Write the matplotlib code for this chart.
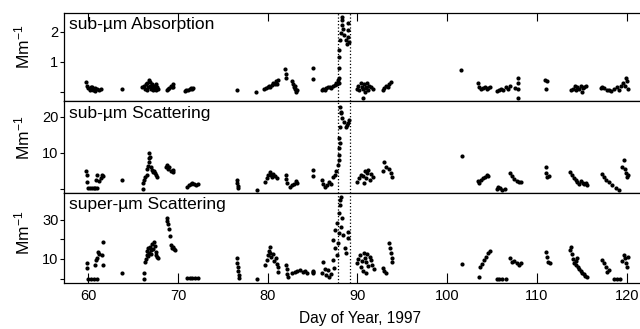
import matplotlib
matplotlib.use("Agg")
import matplotlib.pyplot as plt

plt.rcParams['font.family'] = ['Liberation Sans', 'DejaVu Sans']
plt.rcParams['mathtext.default'] = 'regular'

# sub-um absorption (day, Mm-1)
abs_day = [59.8, 59.9, 60.0, 60.2, 60.4, 60.5, 60.7, 60.8, 61.0, 61.2, 61.4, 60.3,
           63.8,
           66.0, 66.2, 66.3, 66.4, 66.5, 66.6, 66.7, 66.8, 66.9, 67.0, 67.1, 67.2, 67.3,
           67.4, 67.5, 67.6, 67.7, 67.8, 66.9, 67.2,
           68.8, 68.9, 69.0, 69.2, 69.3, 69.4, 69.5,
           70.8, 70.9, 71.1, 71.3, 71.5, 71.6, 71.7,
           76.6, 78.7,
           79.6, 79.8, 80.0, 80.1, 80.3, 80.5, 80.6, 80.8, 80.9, 81.0, 81.1,
           82.0, 82.0, 81.9,
           82.7, 82.8, 82.9, 83.0, 83.1, 83.2, 83.3, 83.0,
           85.0, 85.0,
           86.1, 86.2, 86.4, 86.5, 86.7, 86.9, 87.0, 87.3, 87.5, 87.6, 87.8, 87.7,
           87.9, 87.9, 88.0, 88.0, 88.0, 88.05, 88.2, 88.3, 88.3, 88.25, 88.5, 88.7,
           88.9, 89.0, 89.1, 88.8, 88.4, 89.0,
           90.0, 90.1, 90.2, 90.4, 90.5, 90.6, 90.7, 90.8, 90.9, 91.0, 91.1, 91.2,
           91.3, 90.6, 91.5, 91.7,
           92.8, 93.0, 93.2, 93.4, 93.5, 93.7,
           101.5,
           103.4, 103.6, 103.8, 104.0, 104.2, 104.4, 104.6, 104.8,
           105.6, 105.8, 106.0, 106.2, 106.6, 106.8, 107.0,
           107.9, 107.9, 107.9, 107.9, 107.6,
           110.9, 111.1, 111.0,
           113.8, 114.0, 114.2, 114.3, 114.5, 114.7, 114.9, 115.1, 115.3, 115.5, 115.0,
           117.1, 117.3, 117.5, 117.8, 118.0, 118.2, 118.6, 118.9, 119.1, 119.4, 119.6,
           119.8, 119.9, 120.0, 120.1]
abs_val = [0.33, 0.2, 0.12, 0.08, 0.15, 0.05, 0.12, 0.02, 0.1, 0.08, 0.1, 0.18,
           0.1,
           0.15, 0.2, 0.1, 0.25, 0.05, 0.3, 0.15, 0.4, 0.2, 0.1, 0.28, 0.05, 0.2,
           0.12, 0.25, 0.08, 0.15, 0.1, 0.32, 0.17,
           0.05, 0.1, 0.12, 0.2, 0.15, 0.25, 0.18,
           0.02, 0.05, 0.08, 0.1, 0.12, 0.1, 0.13,
           0.07, 0.0,
           0.1, 0.12, 0.15, 0.2, 0.17, 0.22, 0.3, 0.25, 0.35, 0.28, 0.4,
           0.45, 0.6, 0.78,
           0.35, 0.25, 0.15, 0.1, 0.05, 0.0, 0.08, 0.2,
           0.8, 0.43,
           0.05, 0.1, 0.08, 0.12, 0.15, 0.18, 0.12, 0.2, 0.22, 0.3, 0.4, 0.25,
           0.3, 0.46, 0.8, 1.17, 1.4, 1.73, 1.96, 2.23, 2.5, 2.4, 1.9, 1.73,
           1.83, 2.07, 1.67, 1.6, 2.1, 2.3,
           0.1, 0.2, 0.05, 0.3, 0.15, 0.1, 0.25, 0.0, 0.18, 0.12, 0.3, 0.08,
           0.2, -0.2, 0.15, 0.1,
           0.07, 0.12, 0.2, 0.15, 0.25, 0.33,
           0.73,
           0.3, 0.15, 0.1, 0.12, 0.15, 0.1, 0.12, 0.15,
           0.03, 0.08, 0.1, 0.05, 0.15, 0.1, 0.2,
           0.47, 0.3, 0.1, -0.2, 0.12,
           0.4, 0.35, 0.1,
           0.05, 0.1, 0.2, 0.08, 0.15, 0.1, 0.2, 0.12, 0.15, 0.2, 0.0,
           0.12, 0.15, 0.12, 0.08, 0.05, 0.03, 0.1, 0.15, 0.05, 0.2, 0.3,
           0.2, 0.47, 0.35, 0.1]

# sub-um scattering
sub_day = [59.8, 59.9, 59.9, 60.0, 60.2, 60.4, 60.6, 60.8, 61.0, 60.9, 61.0, 61.2, 61.4,
           61.5, 61.7,
           63.8,
           66.1, 66.1, 66.2, 66.3, 66.5, 66.6, 66.7, 66.8, 66.8, 66.8, 66.9, 67.0, 67.1,
           67.2, 67.4, 67.5, 67.7, 67.3,
           68.7, 68.8, 68.9, 69.0, 69.2, 69.4, 69.5,
           71.0, 71.2, 71.4, 71.6, 71.8, 72.0, 72.2,
           76.6, 76.6, 76.7, 76.7, 78.8,
           79.7, 79.9, 80.0, 80.2, 80.4, 80.6, 80.8, 81.0, 80.5,
           82.0, 82.0, 82.1,
           82.5, 82.7, 82.9, 83.1, 83.3,
           85.0, 85.0,
           86.0, 86.2, 86.4, 86.6, 86.8, 87.0,
           87.3, 87.5, 87.6, 87.8,
           88.1, 88.15, 88.3, 88.5, 88.7, 88.1, 88.9, 89.1, 88.0, 88.1, 88.0, 88.0,
           87.9, 88.2, 88.8,
           90.0, 90.2, 90.4, 90.6, 90.7, 90.8, 91.0, 91.1, 91.2, 91.4, 91.5, 91.7,
           92.9, 93.0, 93.2, 93.5, 93.7, 93.9,
           101.6,
           103.4, 103.6, 103.8, 104.0, 104.2, 104.4, 104.6,
           105.5, 105.7, 105.9, 106.1, 106.4,
           107.0, 107.2, 107.5, 107.8, 108.0, 108.2,
           111.0, 111.0, 111.1, 111.3,
           113.7, 113.9, 114.1, 114.3, 114.5, 114.7, 114.9, 115.1, 115.3, 115.5, 115.6,
           117.3, 117.5, 117.7, 118.0, 118.4, 118.8, 119.1,
           119.5, 119.7, 119.8, 119.9, 120.0, 120.2]
sub_val = [5.0, 2.0, 3.9, 0.3, 0.3, 0.3, 0.2, 0.3, 0.3, 2.5, 3.9, 2.2, 3.0,
           4.0, 3.5,
           2.5,
           0.0, 1.7, 2.5, 3.2, 4.0, 5.5, 6.5, 7.5, 8.5, 10.0, 9.0, 6.0, 5.3,
           4.7, 4.5, 3.8, 3.3, 5.0,
           6.0, 6.7, 5.5, 6.2, 5.0, 4.7, 5.2,
           0.5, 1.0, 1.5, 1.7, 1.3, 1.2, 1.5,
           2.5, 1.7, 0.8, 0.3, -0.3,
           2.0, 3.0, 3.8, 4.7, 4.0, 4.2, 3.5, 3.0, 3.3,
           3.9, 2.8, 1.7,
           0.6, 1.0, 1.5, 2.2, 1.8,
           5.3, 3.6,
           2.5, 1.5, 0.6, 1.0, 2.0, 1.5,
           3.3, 4.0, 5.0, 6.7,
           22.8, 21.4, 19.7, 18.6, 17.2, 17.2, 18.3, 19.2, 14.2, 12.8, 11.4, 9.4,
           8.0, 21.0, 17.8,
           2.0, 3.0, 4.0, 3.5, 1.7, 5.0, 3.0, 4.5, 5.3, 2.5, 4.2, 3.3,
           5.0, 7.5, 6.0, 5.5, 4.5, 3.3,
           9.2,
           2.2, 1.7, 2.5, 3.0, 3.4, 3.9, 3.5,
           0.0, 0.5, 0.3, -0.2, 0.0,
           4.4, 3.5, 2.8, 2.2, 1.9, 2.0,
           6.0, 4.5, 3.3, 3.6,
           4.7, 3.9, 3.0, 2.4, 2.0, 1.5, 2.2, 1.8, 1.3, 1.6, 1.1,
           4.2, 3.2, 2.5, 2.0, 1.0, 0.3, -0.3,
           6.0, 8.0, 5.5, 4.5, 3.3, 3.8]

# super-um scattering
sup_day = [59.9, 59.9, 60.0, 60.3, 60.6, 61.0,
           60.8, 60.9, 61.0, 61.1, 61.2, 61.5, 61.6, 61.7,
           63.8, 66.2, 66.2,
           66.3, 66.4, 66.5, 66.6, 66.7, 66.8, 66.9, 67.0, 67.1, 67.2, 67.3, 67.4, 67.5,
           67.6, 67.7, 67.8, 66.7, 67.0,
           68.8, 68.8, 68.9, 69.0, 69.1, 69.2, 69.3, 69.5, 69.6, 69.7,
           71.0, 71.3, 71.6, 71.9, 72.2,
           76.6, 76.6, 76.7, 76.7, 76.8, 76.8, 78.8,
           79.7, 79.9, 80.0, 80.1, 80.2, 80.3, 80.4, 80.6, 80.7, 80.9, 81.0, 81.2, 81.1,
           82.0, 82.1, 82.2, 82.3,
           82.7, 83.0, 83.3, 83.6, 83.9, 84.2, 84.4,
           85.0, 85.0, 85.1,
           86.1, 86.2, 86.4, 86.5, 86.7, 86.8, 87.0,
           87.3, 87.3, 87.5, 87.5, 87.7, 87.8, 87.9, 88.1, 88.2, 88.1, 88.3, 88.0,
           88.2, 88.4, 88.9, 89.0, 88.6, 88.7, 87.7, 87.4,
           90.0, 90.1, 90.3, 90.4, 90.5, 90.6, 90.7, 90.8, 90.9, 91.0, 91.1, 91.2,
           91.4, 91.5, 91.6, 91.8,
           92.8, 93.0, 93.2,
           93.5, 93.6, 93.7, 93.8, 93.9,
           101.7,
           103.5, 103.7, 103.9, 104.1, 104.3, 104.5, 104.8,
           105.5, 105.8, 106.1, 106.5,
           107.0, 107.2, 107.5, 107.8, 108.0, 108.2,
           111.0, 111.1, 111.2, 111.5,
           113.7, 113.8, 113.9, 114.0, 114.1, 114.3, 114.4, 114.6, 114.7, 114.9, 115.0,
           115.2, 115.4, 115.6, 114.5,
           117.3, 117.5, 117.7, 118.0, 117.8,
           118.6, 118.9, 119.3,
           119.5, 119.7, 119.8, 119.9, 120.0, 120.2]
sup_val = [8.0, 5.4, 0.0, 0.0, 0.0, 0.0,
           6.9, 9.5, 10.7, 13.6, 12.5, 12.0, 18.7, 6.9,
           2.8, 2.8, 0.0,
           8.5, 10.0, 12.0, 14.0, 15.5, 13.0, 16.0, 14.5, 17.5, 15.0, 18.7, 16.5, 13.5,
           12.0, 11.0, 10.5, 11.5, 12.5,
           31.0, 29.5, 28.0, 25.5, 22.0, 17.0, 15.6, 16.0, 15.0, 14.6,
           0.3, 0.5, 0.3, 0.5, 0.3,
           10.5, 8.0, 6.0, 4.0, 2.0, 0.3, 0.0,
           7.0, 9.5, 12.0, 14.0, 16.0, 13.0, 11.0, 12.5, 9.0, 10.5, 7.5, 6.0, 3.3,
           7.0, 5.0, 2.5, 0.8,
           3.0, 3.5, 4.0, 4.3, 3.5, 4.0, 3.0,
           3.8, 3.3, 2.8,
           3.0, 8.5, 5.0, 2.0, 4.5, 0.8, 2.5,
           9.5, 19.7, 24.9, 15.6, 28.5, 18.2, 33.6, 37.7, 41.8, 40.3, 31.0, 23.3,
           26.4, 22.3, 20.8, 23.8, 15.6, 13.0, 12.0, 5.4,
           8.0, 10.0, 12.0, 6.0, 9.0, 4.0, 13.0, 10.5, 3.0, 8.5, 12.5, 6.5,
           11.0, 9.5, 7.0, 5.0,
           5.4, 4.0, 2.8,
           18.0, 15.5, 13.0, 10.5, 8.5,
           7.4,
           0.8, 5.9, 7.5, 9.5, 11.0, 13.0, 14.0,
           0.0, 0.0, 0.0, 0.0,
           10.5, 8.5, 9.0, 8.0, 7.0, 8.0,
           13.6, 11.0, 8.5, 8.0,
           14.5, 16.0, 12.5, 10.0, 8.0, 9.0, 7.0, 6.0, 5.0, 4.0, 3.0,
           2.5, 1.5, 0.8, 10.5,
           9.5, 8.0, 6.0, 4.5, 3.3,
           0.0, 0.0, 0.0,
           9.0, 12.0, 10.5, 8.0, 6.0, 11.0]

event_days = [87.85, 89.13]
panel_titles = ['sub-\u00b5m Absorption', 'sub-\u00b5m Scattering', 'super-\u00b5m Scattering']
ylims = [(-0.3, 2.63), (-1.1, 24.4), (-2.3, 43.8)]
yticks = [[0, 1, 2], [0, 10, 20], [0, 10, 20, 30]]
yticklabels = [['', '1', '2'], ['', '10', '20'], ['', '10', '', '30']]
xticks = [60, 70, 80, 90, 100, 110, 120]

fig = plt.figure(figsize=(6.4, 3.29), dpi=100)
boxes = [[0.1, 0.693, 0.91, 0.2675],
         [0.1, 0.4134, 0.91, 0.2796],
         [0.1, 0.1398, 0.91, 0.2736]]
series = [(abs_day, abs_val), (sub_day, sub_val), (sup_day, sup_val)]
label_y = [47, 138, 233]

axes = []
for i, box in enumerate(boxes):
    ax = fig.add_axes(box)
    d, v = series[i]
    ax.scatter(d, v, s=9, color='black', linewidths=0)
    for e in event_days:
        ax.axvline(e, color='black', lw=0.9, ls=':')
    ax.set_xlim(57.3, 122.2)
    ax.set_ylim(*ylims[i])
    ax.set_yticks(yticks[i])
    ax.set_yticklabels(yticklabels[i])
    ax.set_xticks(xticks)
    ax.tick_params(axis='y', direction='out', length=3, width=0.8, labelsize=10.5, pad=1)
    for s in ax.spines.values():
        s.set_linewidth(0.9)
    ax.text(0.008, 0.95, panel_titles[i], transform=ax.transAxes, fontsize=12.5,
            va='top', ha='left')
    fig.text(22 / 640, 1 - label_y[i] / 329, 'Mm$^{-1}$', rotation=90,
             fontsize=12.5, ha='center', va='center')
    axes.append(ax)

axes[0].tick_params(axis='x', direction='in', top=True, bottom=False,
                    labelbottom=False, length=6, width=0.8)
axes[1].tick_params(axis='x', bottom=False, labelbottom=False)
axes[2].tick_params(axis='x', direction='in', length=7, width=0.8, labelsize=10.5, pad=4)

fig.text(360 / 640, 1 - 318 / 329, 'Day of Year, 1997', fontsize=11.2,
         ha='center', va='center')

plt.savefig('out.png', dpi=100)
